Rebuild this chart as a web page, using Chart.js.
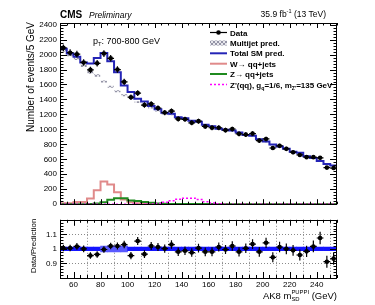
<!DOCTYPE html>
<html>
<head>
<meta charset="utf-8">
<script src="https://cdn.jsdelivr.net/npm/chart.js@4.4.0/dist/chart.umd.min.js"></script>
<style>
  html,body{margin:0;padding:0;background:#fff;}
  #wrap{position:relative;width:375px;height:305px;overflow:hidden;}
  #top{position:absolute;left:0;top:0;}
  #ratio{position:absolute;left:0;top:212px;}
</style>
</head>
<body>
<div id="wrap">
  <canvas id="top" width="375" height="212"></canvas>
  <canvas id="ratio" width="375" height="93"></canvas>
</div>
<script>
// Binning: 5 GeV bins, 50-255 GeV
const binWidth = 5;
const binCentres = [52.5,57.5,62.5,67.5,72.5,77.5,82.5,87.5,92.5,97.5,102.5,107.5,112.5,117.5,122.5,127.5,132.5,137.5,142.5,147.5,
  152.5,157.5,162.5,167.5,172.5,177.5,182.5,187.5,192.5,197.5,202.5,207.5,212.5,217.5,222.5,227.5,232.5,237.5,242.5,247.5,252.5];

// Values
const dataCounts = [2090,2025,2005,1895,1795,1883,2014,1950,1800,1635,1430,1485,1325,1340,1285,1225,1245,1140,1135,1088,
  1110,1040,1022,1022,990,1005,940,930,944,850,872,751,780,740,695,658,629,629,620,489,483];
const totalPred = [2078,2013,1971,1895,1880,1955,2022,1912,1765,1587,1499,1409,1374,1314,1268,1222,1209,1163,1150,1116,
  1103,1061,1043,1009,994,985,959,926,914,867,837,797,770,740,702,687,640,618,577,536,518];
const multijetPred = [2060,1995,1945,1850,1760,1720,1640,1570,1510,1455,1420,1365,1340,1290,1250,1210,1200,1157,1145,1111,
  1098,1056,1039,1005,990,981,955,922,910,863,833,793,766,736,698,683,636,614,573,532,514];
const wJets = [12,14,28,30,75,185,305,262,160,62,25,12,6,4,3,2,2,1,1,1,1,1,0,0,0,0,0,0,0,0,0,0,0,0,0,0,0,0,0,0,0];
const zJets = [0,0,0,0,2,8,25,60,80,78,50,42,28,18,10,6,4,3,3,2,2,2,2,1,0,0,0,0,0,0,0,0,0,0,0,0,0,0,0,0,0];
const zprimeSig = [0,0,0,0,0,0,0,0,0,0,0,0,0,3,10,25,45,65,80,80,62,32,15,5,0,0,0,0,0,0,0,0,0,0,0,0,0,0,0,0,0];
const ratioVals = [1.006,1.006,1.017,1.0,0.954,0.962,0.996,1.02,1.02,1.03,0.954,1.054,0.964,1.02,1.013,1.002,1.03,0.98,0.987,0.975,
  1.006,0.98,0.98,1.013,0.996,1.02,0.98,1.004,1.033,0.98,1.042,0.942,1.013,1.0,0.99,0.958,0.983,1.017,1.075,0.912,0.933];
const ratioUnc = [0.013,0.013,0.013,0.013,0.013,0.013,0.02,0.02,0.02,0.02,0.013,0.013,0.013,0.013,0.013,0.013,0.013,0.013,0.013,0.013,
  0.013,0.013,0.013,0.013,0.013,0.013,0.013,0.013,0.013,0.013,0.013,0.013,0.013,0.013,0.013,0.013,0.013,0.013,0.013,0.013,0.013];
const mjUnc = 0.009;

// Tick labels
const yTickVals = [0,200,400,600,800,1000,1200,1400,1600,1800,2000,2200,2400];
const xTickVals = [60,80,100,120,140,160,180,200,220,240];
const ratioTickVals = [0.9,1,1.1];

const FONT = '"Liberation Sans", Arial, Helvetica, sans-serif';
Chart.defaults.font.family = FONT;
Chart.defaults.color = '#000';

const C_TOTAL = '#2424b6', C_W = '#e08a8a', C_Z = '#1f8a1f', C_SIG = '#ff00ff';

function histPoints(vals){
  const pts = [];
  binCentres.forEach((c,i)=>{
    pts.push({x: c - binWidth/2, y: vals[i]});
    pts.push({x: c + binWidth/2, y: vals[i]});
  });
  return pts;
}

function hatch(){
  const c = document.createElement('canvas'); c.width = 4; c.height = 4;
  const g = c.getContext('2d');
  g.fillStyle = '#e6e6ec'; g.fillRect(0,0,4,4);
  g.strokeStyle = '#9494a6'; g.lineWidth = 1;
  g.beginPath(); g.moveTo(0,4); g.lineTo(4,0); g.moveTo(0,0); g.lineTo(4,4); g.stroke();
  return g.createPattern(c, 'repeat');
}
const hatchFill = hatch();

// text with sub/superscripts: parts = [text, mode]; mode '', 'sub', 'sup', or 'ss' ([sup, sub])
function richText(ctx, x, y, parts, size, weight, align){
  const f = s => (weight ? weight + ' ' : '') + s + 'px ' + FONT;
  const widths = parts.map(p=>{
    if(p[1]==='ss'){
      ctx.font = f(size*0.62);
      return Math.max(ctx.measureText(p[0][0]).width, ctx.measureText(p[0][1]).width);
    }
    ctx.font = f(p[1] ? size*0.65 : size);
    return ctx.measureText(p[0]).width;
  });
  let cx = align==='right' ? x - widths.reduce((a,b)=>a+b,0) : x;
  ctx.textAlign = 'left';
  parts.forEach((p,i)=>{
    if(p[1]==='ss'){
      ctx.font = f(size*0.62);
      ctx.fillText(p[0][0], cx, y - size*0.45);
      ctx.fillText(p[0][1], cx, y + size*0.3);
    } else {
      ctx.font = f(p[1] ? size*0.65 : size);
      const dy = p[1]==='sub' ? size*0.3 : p[1]==='sup' ? -size*0.42 : 0;
      ctx.fillText(p[0], cx, y + dy);
    }
    cx += widths[i];
  });
}

// ROOT-like frame with inward ticks
function frameTicks(o){
  return {
    id: 'frameTicks',
    afterDraw(chart){
      const {ctx, chartArea: a, scales: {x, y}} = chart;
      ctx.save();
      ctx.strokeStyle = '#000'; ctx.lineWidth = 1;
      ctx.beginPath();
      for(let k = 0; ; k++){
        const v = x.min + k*o.xMinor;
        if(v > x.max + 1e-6) break;
        const px = Math.round(x.getPixelForValue(v)) + 0.5;
        const len = xTickVals.includes(v) ? o.xMajLen : o.xMajLen/2;
        ctx.moveTo(px, a.bottom); ctx.lineTo(px, a.bottom - len);
        ctx.moveTo(px, a.top); ctx.lineTo(px, a.top + len);
      }
      for(let k = 0; ; k++){
        const v = +(y.min + k*o.yMinor).toFixed(4);
        if(v > y.max + 1e-6) break;
        const py = Math.round(y.getPixelForValue(v)) + 0.5;
        const len = o.yMajor.some(m => Math.abs(m - v) < 1e-6) ? o.yMajLen : o.yMajLen/2;
        ctx.moveTo(a.left, py); ctx.lineTo(a.left + len, py);
        ctx.moveTo(a.right, py); ctx.lineTo(a.right - len, py);
      }
      ctx.stroke();
      ctx.strokeRect(Math.round(a.left)+0.5, Math.round(a.top)+0.5, Math.round(a.width)-1, Math.round(a.height));
      ctx.restore();
    }
  };
}

// data error bars
function errBars(vals, errs){
  return {
    id: 'errBars',
    afterDatasetsDraw(chart){
      const {ctx, scales: {x, y}} = chart;
      ctx.save();
      ctx.strokeStyle = '#000'; ctx.lineWidth = 1.2;
      ctx.beginPath();
      vals.forEach((v,i)=>{
        const c = binCentres[i], e = errs[i];
        const px = x.getPixelForValue(c), py = y.getPixelForValue(v);
        ctx.moveTo(x.getPixelForValue(c - binWidth/2), py); ctx.lineTo(x.getPixelForValue(c + binWidth/2), py);
        ctx.moveTo(px, y.getPixelForValue(v - e)); ctx.lineTo(px, y.getPixelForValue(v + e));
      });
      ctx.stroke();
      ctx.restore();
    }
  };
}

// Top panel labels + legend
const topText = {
  id: 'topText',
  afterDraw(chart){
    const ctx = chart.ctx;
    ctx.save();
    ctx.fillStyle = '#000'; ctx.textBaseline = 'alphabetic'; ctx.textAlign = 'left';
    ctx.font = 'bold 10px ' + FONT; ctx.fillText('CMS', 60, 17.5);
    ctx.font = 'italic 8.5px ' + FONT; ctx.fillText('Preliminary', 89, 17.5);
    richText(ctx, 326, 17, [['35.9 fb',''],['-1','sup'],[' (13 TeV)','']], 8.5, '', 'right');
    richText(ctx, 93, 43.5, [['p',''],['T','sub'],[': 700-800 GeV','']], 9, '', 'left');

    // y title
    ctx.save();
    ctx.translate(34, 22); ctx.rotate(-Math.PI/2);
    ctx.font = '10px ' + FONT; ctx.textAlign = 'right';
    ctx.fillText('Number of events/5 GeV', 0, 0);
    ctx.restore();

    // legend
    const x0 = 210, x1 = 227, tx = 230;
    const rows = [32.5, 43, 53.3, 63.7, 74, 84.5];
    ctx.lineWidth = 1.2; ctx.strokeStyle = '#000';
    ctx.beginPath(); ctx.moveTo(x0, rows[0]); ctx.lineTo(x1, rows[0]); ctx.stroke();
    ctx.beginPath(); ctx.arc((x0+x1)/2, rows[0], 2.3, 0, Math.PI*2); ctx.fill();
    ctx.fillStyle = hatchFill; ctx.fillRect(x0, rows[1]-2.5, x1-x0, 5);
    ctx.fillStyle = '#000';
    const line = (r, col, w, dash) => {
      ctx.save(); ctx.strokeStyle = col; ctx.lineWidth = w; ctx.setLineDash(dash || []);
      ctx.beginPath(); ctx.moveTo(x0, r); ctx.lineTo(x1, r); ctx.stroke(); ctx.restore();
    };
    line(rows[2], C_TOTAL, 2); line(rows[3], C_W, 2); line(rows[4], C_Z, 2); line(rows[5], C_SIG, 1.5, [2,2]);
    const lab = [
      [['Data','']],
      [['Multijet pred.','']],
      [['Total SM pred.','']],
      [['W\u2192 qq+jets','']],
      [['Z\u2192 qq+jets','']],
      [["Z'(qq), g",''],['q','sub'],['=1/6, m',''],["Z'",'sub'],['=135 GeV','']]
    ];
    lab.forEach((p,i)=> richText(ctx, tx, rows[i] + 3, p, 8, 'bold', 'left'));
    ctx.restore();
  }
};

const ratioText = {
  id: 'ratioText',
  afterDraw(chart){
    const ctx = chart.ctx;
    ctx.save();
    ctx.fillStyle = '#000'; ctx.textBaseline = 'alphabetic';
    ctx.save();
    ctx.translate(35.5, 34); ctx.rotate(-Math.PI/2);
    ctx.font = '8px ' + FONT; ctx.textAlign = 'center';
    ctx.fillText('Data/Prediction', 0, 0);
    ctx.restore();
    richText(ctx, 337, 86.5, [['AK8 m',''],[['PUPPI','SD'],'ss'],[' (GeV)','']], 9.5, '', 'right');
    ctx.restore();
  }
};

// Top panel
new Chart(document.getElementById('top'), {
  type: 'line',
  data: {
    datasets: [
      {type:'scatter', label:'Data', data: binCentres.map((c,i)=>({x:c, y:dataCounts[i]})),
        pointRadius:2.3, pointBackgroundColor:'#000', pointBorderWidth:0, order:0},
      {type:'line', label:"Z'", data: histPoints(zprimeSig), borderColor:C_SIG, borderDash:[2,2], borderWidth:1.5,
        pointRadius:0, tension:0, fill:false, order:1},
      {type:'line', label:'Z', data: histPoints(zJets), borderColor:C_Z, borderWidth:2, pointRadius:0, tension:0, order:2},
      {type:'line', label:'W', data: histPoints(wJets), borderColor:C_W, borderWidth:2, pointRadius:0, tension:0, order:3},
      {type:'line', label:'Total', data: histPoints(totalPred), borderColor:C_TOTAL, borderWidth:2, pointRadius:0, tension:0, order:4},
      {type:'bar', label:'Multijet', data: binCentres.map((c,i)=>({x:c, y:[multijetPred[i]*(1-mjUnc), multijetPred[i]*(1+mjUnc)]})),
        backgroundColor: hatchFill, borderWidth:0, barPercentage:0.9, categoryPercentage:1, grouped:false, order:5}
    ]
  },
  options: {
    responsive:false, animation:false, events:[],
    layout:{padding:{left:0, right:38, top:23, bottom:3.5}},
    plugins:{legend:{display:false}, tooltip:{enabled:false}},
    scales:{
      x:{type:'linear', min:50, max:255, offset:false, display:false},
      y:{type:'linear', min:0, max:2422,
        afterBuildTicks: s => { s.ticks = yTickVals.map(v=>({value:v})); },
        afterFit: s => { s.width = 60; },
        grid:{display:false, drawTicks:false}, border:{display:false},
        ticks:{font:{size:8}, color:'#000', padding:3, callback: v => String(v)}}
    }
  },
  plugins:[errBars(dataCounts, dataCounts.map(v=>Math.sqrt(v))),
    frameTicks({xMinor:5, xMajLen:5, yMinor:40, yMajor:yTickVals, yMajLen:7}), topText]
});

// Ratio panel
new Chart(document.getElementById('ratio'), {
  type: 'line',
  data: {
    datasets: [
      {type:'scatter', label:'Ratio', data: binCentres.map((c,i)=>({x:c, y:ratioVals[i]})),
        pointRadius:2.3, pointBackgroundColor:'#000', pointBorderWidth:0, order:0},
      {type:'bar', label:'Unc', data: binCentres.map((c,i)=>({x:c, y:[1-ratioUnc[i], 1+ratioUnc[i]]})),
        backgroundColor: ratioUnc.map(u => u > 0.015 ? '#5a5aff' : '#1414ff'),
        borderWidth:0, barPercentage:1, categoryPercentage:1, grouped:false, order:1}
    ]
  },
  options: {
    responsive:false, animation:false, events:[],
    layout:{padding:{left:0, right:38, top:2, bottom:0}},
    plugins:{legend:{display:false}, tooltip:{enabled:false}},
    scales:{
      x:{type:'linear', min:50, max:255, offset:false,
        afterBuildTicks: s => { s.ticks = xTickVals.map(v=>({value:v})); },
        afterFit: s => { s.height = 27; },
        grid:{color:'#8a8a8a', lineWidth:1, drawTicks:false}, border:{display:false, dash:[1,2]},
        ticks:{font:{size:8}, color:'#000', padding:2, maxRotation:0, autoSkip:false, callback: v => String(v)}},
      y:{type:'linear', min:0.8, max:1.2,
        afterBuildTicks: s => { s.ticks = ratioTickVals.map(v=>({value:v})); },
        afterFit: s => { s.width = 60; },
        grid:{color:'#8a8a8a', lineWidth:1, drawTicks:false}, border:{display:false, dash:[1,2]},
        ticks:{font:{size:8}, color:'#000', padding:3, callback: v => String(v)}}
    }
  },
  plugins:[errBars(ratioVals, ratioVals.map((r,i)=> r/Math.sqrt(dataCounts[i]))),
    frameTicks({xMinor:5, xMajLen:6, yMinor:0.02, yMajor:[0.8,0.9,1,1.1,1.2], yMajLen:7}), ratioText]
});
</script>
</body>
</html>
